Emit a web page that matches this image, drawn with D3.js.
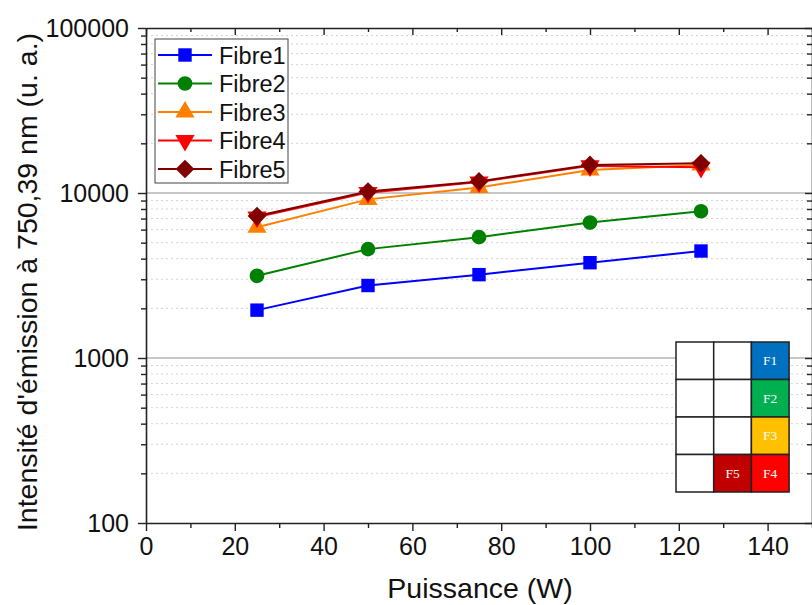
<!DOCTYPE html>
<html><head><meta charset="utf-8">
<script src="https://cdn.jsdelivr.net/npm/d3@7"></script>
<style>body{margin:0;background:#fff}svg{display:block}</style>
</head><body>
<svg id="c" width="812" height="605"></svg>
<script>
const puissance = [25, 50, 75, 100, 125];
const fibre1 = [1950, 2750, 3200, 3780, 4450];
const fibre2 = [3150, 4570, 5400, 6620, 7750];
const fibre3 = [6200, 9150, 10800, 13800, 14800];
const fibre4 = [7150, 10050, 11650, 14600, 14300];
const fibre5 = [7250, 10200, 11750, 14800, 15150];
const seriesNames = ["Fibre1", "Fibre2", "Fibre3", "Fibre4", "Fibre5"];
const seriesColors = ["#0000ff", "#008000", "#ff8000", "#ff0000", "#800000"];
const seriesShapes = ["square", "circle", "triangle", "triangleDown", "diamond"];
const xTicks = [0, 20, 40, 60, 80, 100, 120, 140];
const yTicks = [100, 1000, 10000, 100000];
const insetLabels = [["", "", "F1"], ["", "", "F2"], ["", "", "F3"], ["", "F5", "F4"]];
const insetColors = [[null, null, "#0070c0"], [null, null, "#00b050"], [null, null, "#ffc000"], [null, "#c00000", "#ff0000"]];

const allSeries = [fibre1, fibre2, fibre3, fibre4, fibre5];
const svg = d3.select("#c");
const font = "'Liberation Sans', Arial, sans-serif";
const x = d3.scaleLinear().domain([0, 150]).range([146, 812]);
const y = d3.scaleLog().domain([100, 100000]).range([523, 28]);

// grid
const minor = [];
for (let d = 100; d < 100000; d *= 10) for (let k = 2; k <= 9; k++) minor.push(d * k);
svg.append("g").selectAll("line").data(minor).join("line")
  .attr("x1", x(0)).attr("x2", x(150)).attr("y1", d => y(d)).attr("y2", d => y(d))
  .attr("stroke", "#d4d4d4").attr("stroke-width", 1).attr("stroke-dasharray", "2,3");
svg.append("g").selectAll("line").data([1000, 10000]).join("line")
  .attr("x1", x(0)).attr("x2", x(150)).attr("y1", d => y(d)).attr("y2", d => y(d))
  .attr("stroke", "#b4b4b4").attr("stroke-width", 1.5);

// inset grid
const cw = 37.7, rh = 37.5, ix = 676, iy = 342;
const cells = [];
insetLabels.forEach((row, r) => row.forEach((t, c) => cells.push({r, c, t, col: insetColors[r][c]})));
const ig = svg.append("g");
ig.selectAll("rect").data(cells).join("rect")
  .attr("x", d => ix + d.c * cw).attr("y", d => iy + d.r * rh)
  .attr("width", cw).attr("height", rh)
  .attr("fill", d => d.col || "#fff").attr("stroke", "#222").attr("stroke-width", 1.5);
ig.selectAll("text").data(cells.filter(d => d.t)).join("text")
  .attr("x", d => ix + d.c * cw + cw / 2).attr("y", d => iy + d.r * rh + rh / 2 + 4.5)
  .attr("text-anchor", "middle").attr("fill", "#fff")
  .attr("font-family", "'Liberation Serif', 'Times New Roman', serif").attr("font-size", 13.5)
  .text(d => d.t);

// symbols
function sym(shape) {
  const m = {square: [d3.symbolSquare, 180], circle: [d3.symbolCircle, 170], triangle: [d3.symbolTriangle, 160],
    triangleDown: [d3.symbolTriangle, 160], diamond: [d3.symbolSquare, 175]};
  return d3.symbol().type(m[shape][0]).size(m[shape][1])();
}
function rot(shape) { return shape === "triangleDown" ? 180 : shape === "diamond" ? 45 : 0; }

// series
const line = d3.line().x((d, i) => x(puissance[i])).y(d => y(d));
allSeries.forEach((s, k) => {
  const g = svg.append("g");
  g.append("path").attr("d", line(s)).attr("fill", "none")
    .attr("stroke", seriesColors[k]).attr("stroke-width", 2);
  g.selectAll("path.m").data(s).join("path").attr("class", "m")
    .attr("d", sym(seriesShapes[k]))
    .attr("transform", (d, i) => `translate(${x(puissance[i])},${y(d)}) rotate(${rot(seriesShapes[k])})`)
    .attr("fill", seriesColors[k]);
});

// axes
const axCol = "#222";
const xMinorVals = [10, 30, 50, 70, 90, 110, 130, 150];
svg.append("g").attr("transform", `translate(0,${y(100)})`)
  .call(d3.axisBottom(x).tickValues(xTicks).tickSize(8).tickSizeOuter(0).tickPadding(6).tickFormat(d3.format("d")));
svg.append("g").attr("transform", `translate(0,${y(100)})`)
  .call(d3.axisBottom(x).tickValues(xMinorVals).tickSize(5).tickSizeOuter(0).tickFormat(""))
  .select(".domain").remove();
svg.append("g").attr("transform", `translate(${x(0)},0)`)
  .call(d3.axisLeft(y).tickValues(yTicks).tickSize(8).tickSizeOuter(0).tickPadding(9).tickFormat(d3.format("d")));
svg.append("g").attr("transform", `translate(${x(0)},0)`)
  .call(d3.axisLeft(y).tickValues(minor).tickSize(5).tickFormat(""))
  .select(".domain").remove();
// top axis, inward ticks
svg.append("g").attr("transform", `translate(0,${y(100000)})`)
  .call(d3.axisBottom(x).tickValues(xTicks).tickSize(7).tickSizeOuter(0).tickFormat(""));
svg.append("g").attr("transform", `translate(0,${y(100000)})`)
  .call(d3.axisBottom(x).tickValues(xMinorVals).tickSize(4).tickSizeOuter(0).tickFormat(""))
  .select(".domain").remove();
// right axis, inward ticks
svg.append("g").attr("transform", `translate(${x(150)},0)`)
  .call(d3.axisLeft(y).tickValues(yTicks).tickSize(7).tickSizeOuter(0).tickFormat(""));
svg.append("g").attr("transform", `translate(${x(150)},0)`)
  .call(d3.axisLeft(y).tickValues(minor).tickSize(5).tickFormat(""))
  .select(".domain").remove();

svg.selectAll(".domain").attr("stroke", axCol).attr("stroke-width", 1.6);
svg.selectAll(".tick line").attr("stroke", axCol).attr("stroke-width", 1.4);
svg.selectAll(".tick text").attr("font-family", font).attr("font-size", 25).attr("fill", "#111");

// axis titles
svg.append("text").attr("x", 480).attr("y", 598).attr("text-anchor", "middle")
  .attr("font-family", font).attr("font-size", 28.5).attr("fill", "#111").text("Puissance (W)");
svg.append("text").attr("transform", "translate(37,282) rotate(-90)").attr("text-anchor", "middle")
  .attr("font-family", font).attr("font-size", 28.5).attr("fill", "#111")
  .text("Intensité d'émission à 750,39 nm (u. a.)");

// legend
const lg = svg.append("g");
lg.append("rect").attr("x", 155).attr("y", 39).attr("width", 133).attr("height", 144)
  .attr("fill", "#fff").attr("stroke", "#444").attr("stroke-width", 1);
seriesNames.forEach((n, k) => {
  const yy = 55 + k * 28.5;
  lg.append("line").attr("x1", 158).attr("x2", 212).attr("y1", yy).attr("y2", yy)
    .attr("stroke", seriesColors[k]).attr("stroke-width", 2);
  lg.append("path").attr("d", sym(seriesShapes[k]))
    .attr("transform", `translate(185,${yy}) rotate(${rot(seriesShapes[k])})`).attr("fill", seriesColors[k]);
  lg.append("text").attr("x", 219).attr("y", yy + 8.5).attr("font-family", font).attr("font-size", 23.5)
    .attr("fill", "#111").text(n);
});
</script>
</body></html>
